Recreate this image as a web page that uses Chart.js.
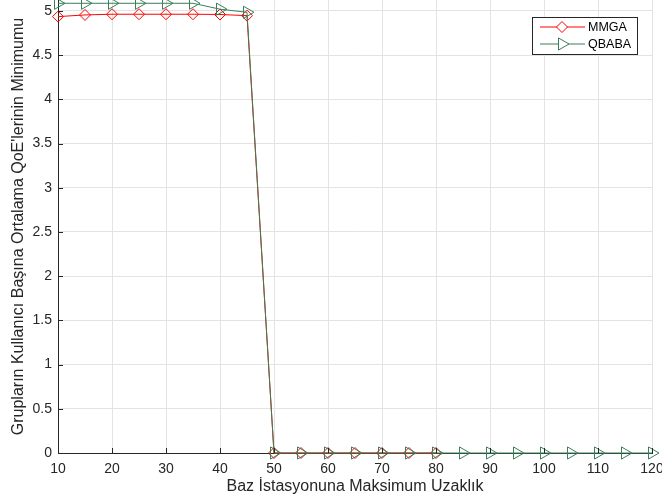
<!DOCTYPE html>
<html>
<head>
<meta charset="utf-8">
<script src="https://cdn.jsdelivr.net/npm/chart.js@4.4.1/dist/chart.umd.min.js"></script>
<style>
  html, body { margin: 0; padding: 0; background: #fff; overflow: hidden; }
  #wrap { position: relative; width: 662px; height: 502px; }
</style>
</head>
<body>
<div id="wrap"><canvas id="myChart"></canvas></div>
<script>
// values
var mmgaX = [10, 15, 20, 25, 30, 35, 40, 45, 50, 55, 60, 65, 70, 75, 80]
var mmgaY = [4.936, 4.955, 4.963, 4.963, 4.963, 4.963, 4.96, 4.947, 0, 0, 0, 0, 0, 0, 0]

var qbabaX = [10, 15, 20, 25, 30, 35, 40, 45, 50, 55, 60, 65, 70, 75, 80, 85, 90, 95, 100, 105, 110, 115, 120]
var qbabaY = [5.087, 5.087, 5.087, 5.087, 5.087, 5.087, 5.02, 4.985, 0, 0, 0, 0, 0, 0, 0, 0, 0, 0, 0, 0, 0, 0, 0]

var xTicks = [10, 20, 30, 40, 50, 60, 70, 80, 90, 100, 110, 120]
var yTicks = [0, 0.5, 1, 1.5, 2, 2.5, 3, 3.5, 4, 4.5, 5]

var seriesNames = ['MMGA', 'QBABA']
var red = '#ff0000'
var green = '#3a7f5a'
var fontFam = '"Liberation Sans", Arial, Helvetica, sans-serif'

function toPoints(xs, ys){
    return xs.map(function(x, i){ return {x: x, y: ys[i]} })
}

// MATLAB style inward tick marks
var innerTicks = {
    id: 'innerTicks',
    afterDatasetsDraw: function(chart){
        var ctx = chart.ctx
        var xs = chart.scales.x, ys = chart.scales.y
        var a = chart.chartArea
        ctx.save()
        ctx.strokeStyle = '#262626'
        ctx.lineWidth = 1
        ctx.beginPath()
        xTicks.forEach(function(v){
            var px = Math.round(xs.getPixelForValue(v)) + 0.5
            ctx.moveTo(px, a.bottom)
            ctx.lineTo(px, a.bottom - 5)
        })
        yTicks.forEach(function(v){
            var py = Math.round(ys.getPixelForValue(v)) + 0.5
            ctx.moveTo(a.left, py)
            ctx.lineTo(a.left + 5, py)
        })
        ctx.stroke()
        ctx.restore()
    }
}

// boxed legend in the upper right corner
var boxLegend = {
    id: 'boxLegend',
    afterDraw: function(chart){
        var ctx = chart.ctx
        var bx = 532.5, by = 17.5, bw = 105, bh = 37
        ctx.save()
        ctx.fillStyle = '#ffffff'
        ctx.fillRect(bx, by, bw, bh)
        ctx.strokeStyle = '#262626'
        ctx.lineWidth = 1
        ctx.strokeRect(bx, by, bw, bh)
        ctx.font = '12.5px ' + fontFam
        ctx.textBaseline = 'middle'
        var rows = [27, 44]
        chart.data.datasets.forEach(function(ds, i){
            var y = rows[i]
            ctx.strokeStyle = ds.borderColor
            ctx.lineWidth = 1
            ctx.beginPath()
            ctx.moveTo(540, y)
            ctx.lineTo(585, y)
            ctx.stroke()
            ctx.fillStyle = '#ffffff'
            Chart.helpers.drawPoint(ctx, {
                pointStyle: ds.pointStyle,
                rotation: ds.pointRotation || 0,
                radius: ds.pointRadius,
                borderWidth: 1
            }, 562, y)
            ctx.fillStyle = '#000000'
            ctx.fillText(seriesNames[i], 588, y + 1)
        })
        ctx.restore()
    }
}

var ctx1 = document.getElementById('myChart').getContext('2d')
var chart1 = new Chart(ctx1, {
    type: 'line',
    data: {
        datasets: [{
            label: seriesNames[0],
            data: toPoints(mmgaX, mmgaY),
            borderColor: red,
            backgroundColor: 'rgba(0,0,0,0)',
            borderWidth: 1,
            pointStyle: 'rectRot',
            pointRadius: 5.5,
            pointBorderWidth: 1,
            pointBackgroundColor: 'rgba(0,0,0,0)',
            pointBorderColor: red,
            clip: false,
            order: 2
        }, {
            label: seriesNames[1],
            data: toPoints(qbabaX, qbabaY),
            borderColor: green,
            backgroundColor: 'rgba(0,0,0,0)',
            borderWidth: 1,
            pointStyle: 'triangle',
            pointRotation: 90,
            pointRadius: 7,
            pointBorderWidth: 1,
            pointBackgroundColor: 'rgba(0,0,0,0)',
            pointBorderColor: green,
            clip: false,
            order: 1
        }]
    },
    options: {
        responsive: true,
        maintainAspectRatio: false,
        animation: false,
        layout: { autoPadding: false, padding: { left: 0, right: 10, top: 0, bottom: 0 } },
        plugins: {
            legend: { display: false },
            tooltip: { enabled: false }
        },
        scales: {
            x: {
                type: 'linear',
                min: 10,
                max: 120,
                afterBuildTicks: function(axis){
                    axis.ticks = xTicks.map(function(v){ return {value: v} })
                },
                afterFit: function(axis){
                    axis.height = 49
                    axis.paddingLeft = 0
                    axis.paddingRight = 0
                },
                grid: { color: '#e3e3e3', drawTicks: false },
                border: { color: '#262626', width: 1 },
                ticks: {
                    padding: 8,
                    color: '#262626',
                    maxRotation: 0,
                    autoSkip: false,
                    font: { family: fontFam, size: 14 }
                },
                title: {
                    display: true,
                    text: 'Baz İstasyonuna Maksimum Uzaklık',
                    color: '#262626',
                    padding: { top: 0, bottom: 6 },
                    font: { family: fontFam, size: 16 }
                }
            },
            y: {
                type: 'linear',
                min: 0,
                max: 5.124,
                afterBuildTicks: function(axis){
                    axis.ticks = yTicks.map(function(v){ return {value: v} })
                },
                afterFit: function(axis){
                    axis.width = 58
                    axis.paddingTop = 0
                    axis.paddingBottom = 0
                },
                grid: { color: '#e3e3e3', drawTicks: false },
                border: { color: '#262626', width: 1 },
                ticks: {
                    padding: 6,
                    color: '#262626',
                    autoSkip: false,
                    font: { family: fontFam, size: 14 },
                    callback: function(v){ return String(v) }
                },
                title: {
                    display: true,
                    text: "Grupların Kullanıcı Başına Ortalama QoE'lerinin Minimumu",
                    color: '#262626',
                    padding: { top: 9, bottom: 0 },
                    font: { family: fontFam, size: 16 }
                }
            }
        }
    },
    plugins: [innerTicks, boxLegend]
})
</script>
</body>
</html>
